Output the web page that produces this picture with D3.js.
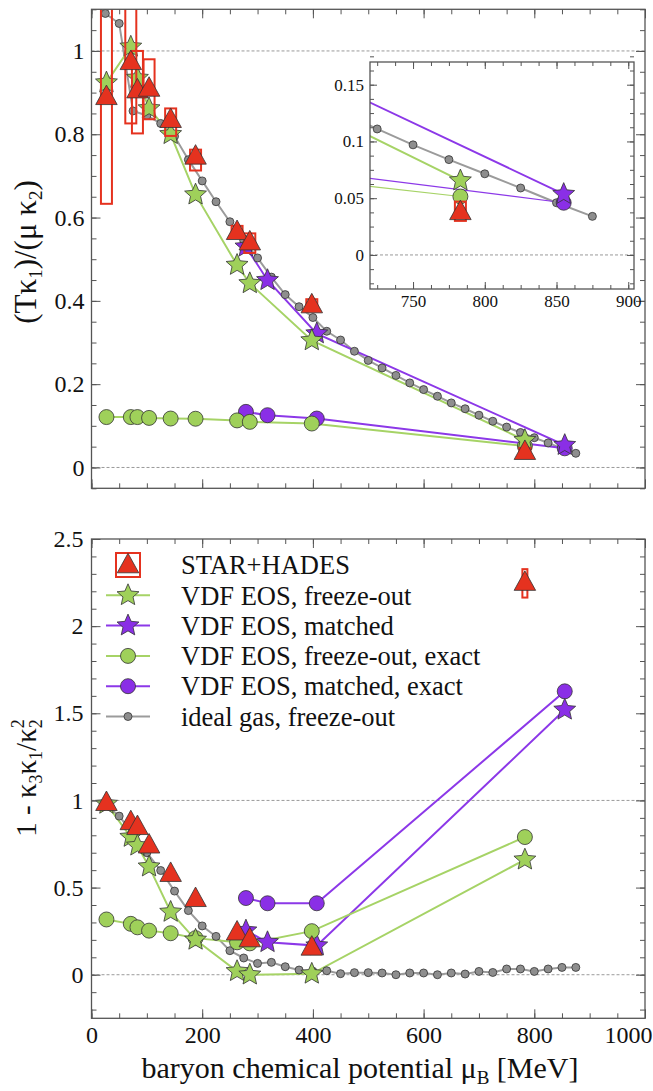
<!DOCTYPE html>
<html>
<head>
<meta charset="utf-8">
<script src="https://cdn.jsdelivr.net/npm/d3@7"></script>
<style>
    body { margin: 0; background: #fff; }
</style>
</head>
<body>
<svg id="chart" width="653" height="1091"></svg>
<script>
(function (d3) {

    /***** Data *****/
    // STAR + HADES collision points (mu_B in MeV)
    var muExp = [27, 71, 83, 104, 143, 188, 263, 286, 398, 783];
    var expTop = [0.89, 0.974, 0.906, 0.91, 0.835, 0.747, 0.566, 0.541, 0.39, 0.038];
    var expTopLo = [0.633, 0.826, 0.802, 0.836, 0.796, 0.713, 0.552, 0.515, 0.376, 0.030];
    var expTopHi = [1.2, 1.2, 1.0, 0.98, 0.862, 0.763, 0.580, 0.562, 0.404, 0.047];
    var expBot = [0.987, 0.877, 0.849, 0.743, 0.58, 0.436, 0.244, 0.205, 0.157, 2.25];
    var expBotLo = [0.96, 0.85, 0.82, 0.72, 0.555, 0.41, 0.22, 0.18, 0.13, 2.164];
    var expBotHi = [1.01, 0.90, 0.87, 0.765, 0.60, 0.46, 0.265, 0.23, 0.18, 2.327];

    // VDF EOS, freeze-out (stars) and freeze-out exact (circles)
    var foStarTop = [0.924, 1.01, 0.935, 0.862, 0.80, 0.655, 0.486, 0.442, 0.305, 0.0655];
    var foStarBot = [0.98, 0.79, 0.74, 0.62, 0.36, 0.20, 0.02, 0.0, 0.005, 0.66];
    var foCircTop = [0.121, 0.121, 0.121, 0.119, 0.1175, 0.117, 0.113, 0.1095, 0.1055, 0.0515];
    var foCircBot = [0.317, 0.292, 0.272, 0.253, 0.238, 0.21, 0.186, 0.18, 0.25, 0.79];

    // VDF EOS, matched
    var muMatch = [279, 318, 407, 855];
    var mStarTop = [0.53, 0.4495, 0.3215, 0.0536];
    var mStarBot = [0.253, 0.186, 0.167, 1.52];
    var mCircTop = [0.1335, 0.1255, 0.1175, 0.046];
    var mCircBot = [0.44, 0.41, 0.41, 1.626];

    // ideal gas, freeze-out
    var muIdeal = [25, 50, 75, 100, 125, 150, 175, 200, 225, 250, 275, 300, 325, 350, 375, 400, 425, 450,
                   475, 500, 525, 550, 575, 600, 625, 650, 675, 700, 725, 750, 775, 800, 825, 850, 875];
    var idealTop = [1.09, 1.066, 0.856, 0.845, 0.826, 0.795, 0.739, 0.688, 0.638, 0.59, 0.545, 0.503, 0.457, 0.415,
                    0.386, 0.36, 0.327, 0.306, 0.279, 0.257, 0.239, 0.221, 0.203, 0.187, 0.171, 0.155, 0.141,
                    0.1255, 0.111, 0.097, 0.084, 0.0715, 0.059, 0.046, 0.034];
    var idealBot = [0.98, 0.91, 0.81, 0.70, 0.598, 0.48, 0.368, 0.28, 0.22, 0.138, 0.096, 0.065, 0.071, 0.046,
                    0.027, 0.02, 0.023, 0.006, 0.012, 0.012, 0.01, 0.0, 0.01, 0.01, 0.0, 0.01, 0.004,
                    0.019, 0.013, 0.033, 0.033, 0.019, 0.033, 0.042, 0.042];

    var legendLabels = ["STAR+HADES", "VDF EOS, freeze-out", "VDF EOS, matched",
                        "VDF EOS, freeze-out, exact", "VDF EOS, matched, exact", "ideal gas, freeze-out"];

    /***** Configuration *****/
    var FONT = "'Liberation Serif', 'Times New Roman', Tinos, 'Nimbus Roman', 'DejaVu Serif', serif";
    var green = "#9fd05a", greenLine = "#a6d366";
    var purple = "#8a2fe6", purpleLine = "#8c38e8";
    var red = "#e5321f";
    var greyFill = "#8e8e8e", greyLine = "#9b9b9b";
    var frameColor = "#555";

    var svg = d3.select("#chart").attr("font-family", FONT);
    var x = d3.scaleLinear().domain([0, 1000]).range([91.5, 645]);
    var yTop = d3.scaleLinear().domain([-0.05, 1.1]).range([488.3, 9.3]);
    var yBot = d3.scaleLinear().domain([-0.25, 2.5]).range([1018.3, 539]);
    var xIn = d3.scaleLinear().domain([720, 904]).range([370, 634]);
    var yIn = d3.scaleLinear().domain([-0.03, 0.17]).range([289, 62]);

    function steps(a, b, s) {
        return d3.range(Math.round((b - a) / s) + 1).map(function (i) { return +(a + i * s).toFixed(4); });
    }

    /***** Marker shapes *****/
    function starPath(R) {
        var r = R * 0.46, p = [];
        for (var i = 0; i < 10; i++) {
            var a = -Math.PI / 2 + i * Math.PI / 5, rr = i % 2 ? r : R;
            p.push([rr * Math.cos(a), rr * Math.sin(a)]);
        }
        return "M" + p.map(function (q) { return q[0].toFixed(2) + "," + q[1].toFixed(2); }).join("L") + "Z";
    }
    function triPath(w, h) {
        return "M0," + (-h * 0.6) + "L" + (w / 2) + "," + (h * 0.4) + "L" + (-w / 2) + "," + (h * 0.4) + "Z";
    }
    var STAR = starPath(11.5), TRI = triPath(21.5, 19.5);

    /***** Helpers *****/
    function clip(id, x0, y0, w, h) {
        svg.append("clipPath").attr("id", id).append("rect")
            .attr("x", x0).attr("y", y0).attr("width", w).attr("height", h);
    }

    function frame(g, xs, ys, o) {
        var x0 = xs.range()[0], x1 = xs.range()[1], y0 = ys.range()[1], y1 = ys.range()[0];
        var axes = [
            [d3.axisBottom(xs), "translate(0," + y1 + ")", o.xMajor, o.xMinor, o.xLabels],
            [d3.axisTop(xs), "translate(0," + y0 + ")", o.xMajor, o.xMinor, false],
            [d3.axisLeft(ys), "translate(" + x0 + ",0)", o.yMajor, o.yMinor, true],
            [d3.axisRight(ys), "translate(" + x1 + ",0)", o.yMajor, o.yMinor, false]
        ];
        axes.forEach(function (a, k) {
            var minor = g.append("g").attr("transform", a[1])
                .call(a[0].tickValues(a[3]).tickSize(-o.minorLen).tickFormat(""));
            minor.select(".domain").remove();
            var major = g.append("g").attr("transform", a[1]).call(
                a[0].tickValues(a[2]).tickSize(-o.majorLen).tickPadding(o.pad)
                    .tickFormat(a[4] ? d3.format("~g") : ""));
            major.select(".domain").remove();
            major.attr("font-family", FONT);
            major.selectAll("text").style("font-size", o.font + "px").style("font-family", FONT)
                .attr("fill", "#111");
            g.selectAll(".tick line").attr("stroke", frameColor).attr("stroke-width", 1);
            // keep the last x label inside the page, as in the original figure
            if (o.lastEnd && k === 0) {
                var last = o.xMajor[o.xMajor.length - 1];
                major.selectAll("text").filter(function (d) { return d === last; })
                    .attr("text-anchor", "end").attr("x", 7);
            }
        });
        g.append("rect").attr("x", x0).attr("y", y0).attr("width", x1 - x0).attr("height", y1 - y0)
            .attr("fill", "none").attr("stroke", frameColor).attr("stroke-width", 1.3);
    }

    function dashed(g, xs, ys, v) {
        g.append("line").attr("x1", xs.range()[0]).attr("x2", xs.range()[1])
            .attr("y1", ys(v)).attr("y2", ys(v))
            .attr("stroke", "#9a9a9a").attr("stroke-width", 1).attr("stroke-dasharray", "3,2");
    }

    function line(g, xs, ys, mu, vals, color, width) {
        var gen = d3.line().x(function (d) { return xs(d[0]); }).y(function (d) { return ys(d[1]); });
        g.append("path").datum(d3.zip(mu, vals)).attr("d", gen)
            .attr("fill", "none").attr("stroke", color).attr("stroke-width", width);
    }

    function markers(g, xs, ys, mu, vals, kind, fill) {
        var sel = g.selectAll(null).data(d3.zip(mu, vals)).enter();
        if (kind === "circle" || kind === "dot") {
            sel.append("circle").attr("cx", function (d) { return xs(d[0]); })
                .attr("cy", function (d) { return ys(d[1]); })
                .attr("r", kind === "dot" ? 4 : 7.5)
                .attr("fill", fill).attr("stroke", "#333").attr("stroke-width", 0.8);
        } else {
            sel.append("path").attr("d", kind === "star" ? STAR : TRI)
                .attr("transform", function (d) { return "translate(" + xs(d[0]) + "," + ys(d[1]) + ")"; })
                .attr("fill", fill).attr("stroke", "#333").attr("stroke-width", 0.8);
        }
    }

    function boxes(g, xs, ys, mu, lo, hi, w) {
        g.selectAll(null).data(d3.range(mu.length)).enter().append("rect")
            .attr("x", function (i) { return xs(mu[i]) - w / 2; })
            .attr("y", function (i) { return ys(hi[i]); })
            .attr("width", w)
            .attr("height", function (i) { return ys(lo[i]) - ys(hi[i]); })
            .attr("fill", "none").attr("stroke", red).attr("stroke-width", 2);
    }

    function panel(g, xs, ys, s, thinCirc) {
        var cw = thinCirc ? 1.2 : 2;
        line(g, xs, ys, muIdeal, s.ideal, greyLine, 2);
        line(g, xs, ys, muMatch, s.mCirc, purpleLine, cw);
        line(g, xs, ys, muMatch, s.mStar, purpleLine, 2);
        line(g, xs, ys, muExp, s.foCirc, greenLine, cw);
        line(g, xs, ys, muExp, s.foStar, greenLine, 2);
        markers(g, xs, ys, muIdeal, s.ideal, "dot", greyFill);
        markers(g, xs, ys, muMatch, s.mCirc, "circle", purple);
        markers(g, xs, ys, muMatch, s.mStar, "star", purple);
        markers(g, xs, ys, muExp, s.foCirc, "circle", green);
        markers(g, xs, ys, muExp, s.foStar, "star", green);
        boxes(g, xs, ys, muExp, s.lo, s.hi, s.boxW);
        markers(g, xs, ys, muExp, s.exp, "tri", red);
    }

    function label(sel, size) {
        return sel.style("font-size", size + "px").style("font-family", FONT).attr("fill", "#111");
    }

    /***** Top panel *****/
    clip("clipTop", 91.5, 9.3, 553.5, 479);
    clip("clipBot", 91.5, 539, 553.5, 479.3);
    clip("clipIn", 370, 62, 264, 227);

    var xMajor = steps(0, 1000, 200), xMinor = steps(0, 1000, 50);

    var gTop = svg.append("g");
    var gTopData = gTop.append("g").attr("clip-path", "url(#clipTop)");
    dashed(gTopData, x, yTop, 1);
    dashed(gTopData, x, yTop, 0);
    panel(gTopData, x, yTop, {
        ideal: idealTop, mCirc: mCircTop, mStar: mStarTop, foCirc: foCircTop, foStar: foStarTop,
        exp: expTop, lo: expTopLo, hi: expTopHi, boxW: 11
    });
    frame(gTop, x, yTop, {
        xMajor: xMajor, xMinor: xMinor, yMajor: steps(0, 1, 0.2), yMinor: steps(-0.05, 1.1, 0.05),
        majorLen: 9, minorLen: 5, pad: 7, font: 24, xLabels: false
    });

    /***** Inset *****/
    var gIn = svg.append("g");
    gIn.append("rect").attr("x", 370).attr("y", 62).attr("width", 264).attr("height", 227).attr("fill", "#fff");
    var gInData = gIn.append("g").attr("clip-path", "url(#clipIn)");
    dashed(gInData, xIn, yIn, 0);
    panel(gInData, xIn, yIn, {
        ideal: idealTop, mCirc: mCircTop, mStar: mStarTop, foCirc: foCircTop, foStar: foStarTop,
        exp: expTop, lo: expTopLo, hi: expTopHi, boxW: 11
    }, true);
    frame(gIn, xIn, yIn, {
        xMajor: steps(750, 900, 50), xMinor: steps(725, 900, 12.5),
        yMajor: steps(0, 0.15, 0.05), yMinor: steps(-0.025, 0.17, 0.0125),
        majorLen: 7, minorLen: 4, pad: 6, font: 17, xLabels: true
    });

    /***** Bottom panel *****/
    var gBot = svg.append("g");
    var gBotData = gBot.append("g").attr("clip-path", "url(#clipBot)");
    dashed(gBotData, x, yBot, 1);
    dashed(gBotData, x, yBot, 0);
    panel(gBotData, x, yBot, {
        ideal: idealBot, mCirc: mCircBot, mStar: mStarBot, foCirc: foCircBot, foStar: foStarBot,
        exp: expBot, lo: expBotLo, hi: expBotHi, boxW: 5
    });
    frame(gBot, x, yBot, {
        xMajor: xMajor, xMinor: xMinor, yMajor: steps(0, 2.5, 0.5), yMinor: steps(-0.2, 2.5, 0.1),
        majorLen: 9, minorLen: 5, pad: 8, font: 24, xLabels: true, lastEnd: true
    });

    /***** Legend *****/
    var legend = gBot.append("g");
    var styles = [
        { kind: "tri", fill: red, line: null },
        { kind: "star", fill: green, line: greenLine },
        { kind: "star", fill: purple, line: purpleLine },
        { kind: "circle", fill: green, line: greenLine },
        { kind: "circle", fill: purple, line: purpleLine },
        { kind: "dot", fill: greyFill, line: greyLine }
    ];
    legendLabels.forEach(function (txt, i) {
        var cy = 565 + i * 30.3, cx = 128;
        var row = legend.append("g");
        if (styles[i].line) {
            row.append("line").attr("x1", 106).attr("x2", 150).attr("y1", cy).attr("y2", cy)
                .attr("stroke", styles[i].line).attr("stroke-width", 2);
        } else {
            row.append("rect").attr("x", cx - 12).attr("y", cy - 12).attr("width", 24).attr("height", 24)
                .attr("fill", "none").attr("stroke", red).attr("stroke-width", 2);
        }
        markers(row, function (v) { return v; }, function (v) { return v; }, [cx], [cy],
                styles[i].kind, styles[i].fill);
        label(row.append("text").attr("x", 181).attr("y", cy).attr("dy", "0.35em"), 26.5).text(txt);
    });

    /***** Axis titles *****/
    var t1 = label(svg.append("text").attr("transform", "translate(36,252) rotate(-90)")
        .attr("text-anchor", "middle"), 31);
    t1.append("tspan").text("(Tκ");
    t1.append("tspan").attr("dy", 6).style("font-size", "19px").text("1");
    t1.append("tspan").attr("dy", -6).text(")/(μ κ");
    t1.append("tspan").attr("dy", 6).style("font-size", "19px").text("2");
    t1.append("tspan").attr("dy", -6).text(")");

    var t2 = label(svg.append("text").attr("transform", "translate(36,778) rotate(-90)")
        .attr("text-anchor", "middle"), 29);
    t2.append("tspan").text("1 - κ");
    t2.append("tspan").attr("dy", 6).style("font-size", "18px").text("3");
    t2.append("tspan").attr("dy", -6).text("κ");
    t2.append("tspan").attr("dy", 6).style("font-size", "18px").text("1");
    t2.append("tspan").attr("dy", -6).text("/κ");
    t2.append("tspan").attr("dy", 6).style("font-size", "18px").text("2");
    t2.append("tspan").attr("dx", -9).attr("dy", -18).style("font-size", "18px").text("2");

    var t3 = label(svg.append("text").attr("x", 360).attr("y", 1078)
        .attr("text-anchor", "middle"), 30);
    t3.append("tspan").text("baryon chemical potential μ");
    t3.append("tspan").attr("dy", 6).style("font-size", "19px").text("B");
    t3.append("tspan").attr("dy", -6).text(" [MeV]");

})(d3);
</script>
</body>
</html>
